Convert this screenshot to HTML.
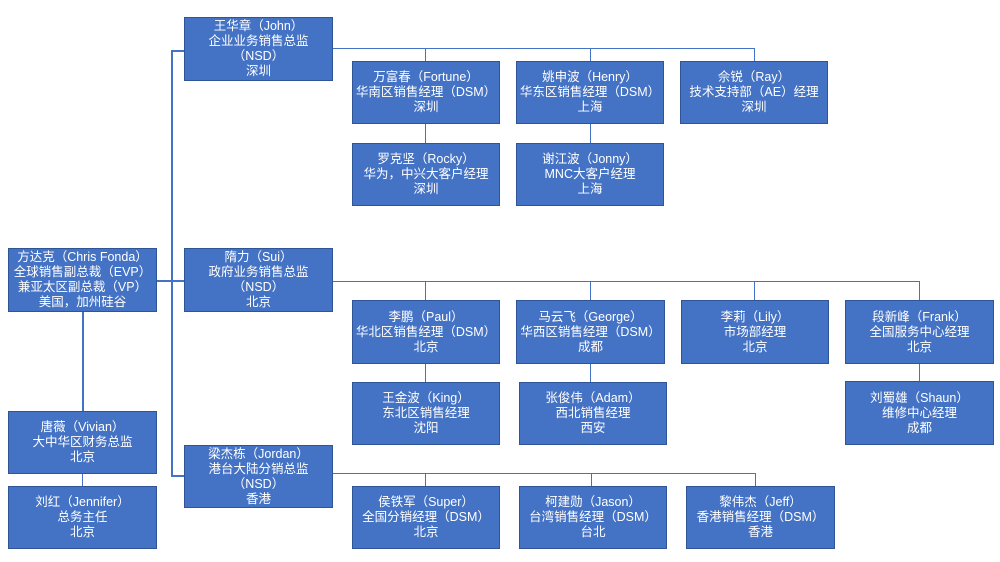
<!DOCTYPE html>
<html><head><meta charset="utf-8"><style>
body{margin:0;width:1000px;height:562px;background:#fff;position:relative;overflow:hidden;font-family:"Liberation Sans","Noto Sans CJK SC",sans-serif}
.b{position:absolute;background:#4472C4;border:1px solid #2F5597;box-sizing:border-box;color:#fff;font-size:12.5px;line-height:15px;text-align:center;display:flex;flex-direction:column;justify-content:center;white-space:nowrap}
.h{position:absolute;height:1px;background:#4472C4}
.v{position:absolute;width:1px;background:#4472C4}
</style></head><body>
<div class="v" style="left:171px;top:50px;height:427px;width:2px"></div>
<div class="h" style="left:171px;top:50px;width:14px;height:2px"></div>
<div class="h" style="left:171px;top:475px;width:14px;height:2px"></div>
<div class="h" style="left:157px;top:280px;width:28px;height:2px"></div>
<div class="v" style="left:82px;top:312px;height:100px;width:2px"></div>
<div class="v" style="left:82px;top:474px;height:12px"></div>
<div class="h" style="left:333px;top:48px;width:422px"></div>
<div class="v" style="left:425px;top:48px;height:14px"></div>
<div class="v" style="left:590px;top:48px;height:14px"></div>
<div class="v" style="left:754px;top:48px;height:14px"></div>
<div class="v" style="left:425px;top:124px;height:20px"></div>
<div class="v" style="left:590px;top:124px;height:20px"></div>
<div class="h" style="left:333px;top:281px;width:587px"></div>
<div class="v" style="left:425px;top:281px;height:20px"></div>
<div class="v" style="left:590px;top:281px;height:20px"></div>
<div class="v" style="left:754px;top:281px;height:20px"></div>
<div class="v" style="left:919px;top:281px;height:20px"></div>
<div class="v" style="left:425px;top:364px;height:18px"></div>
<div class="v" style="left:590px;top:364px;height:18px"></div>
<div class="v" style="left:919px;top:364px;height:18px"></div>
<div class="h" style="left:333px;top:473px;width:422px"></div>
<div class="v" style="left:425px;top:473px;height:13px"></div>
<div class="v" style="left:591px;top:473px;height:13px"></div>
<div class="v" style="left:755px;top:473px;height:13px"></div>
<div class="b" style="left:8px;top:248px;width:149px;height:64px">方达克（Chris Fonda）<br>全球销售副总裁（EVP）<br>兼亚太区副总裁（VP）<br>美国，加州硅谷</div>
<div class="b" style="left:8px;top:411px;width:149px;height:63px">唐薇（Vivian）<br>大中华区财务总监<br>北京</div>
<div class="b" style="left:8px;top:486px;width:149px;height:63px">刘红（Jennifer）<br>总务主任<br>北京</div>
<div class="b" style="left:184px;top:17px;width:149px;height:64px">王华章（John）<br>企业业务销售总监<br>（NSD）<br>深圳</div>
<div class="b" style="left:184px;top:248px;width:149px;height:64px">隋力（Sui）<br>政府业务销售总监<br>（NSD）<br>北京</div>
<div class="b" style="left:184px;top:445px;width:149px;height:63px">梁杰栋（Jordan）<br>港台大陆分销总监<br>（NSD）<br>香港</div>
<div class="b" style="left:352px;top:61px;width:148px;height:63px">万富春（Fortune）<br>华南区销售经理（DSM）<br>深圳</div>
<div class="b" style="left:352px;top:143px;width:148px;height:63px">罗克坚（Rocky）<br>华为，中兴大客户经理<br>深圳</div>
<div class="b" style="left:516px;top:61px;width:148px;height:63px">姚申波（Henry）<br>华东区销售经理（DSM）<br>上海</div>
<div class="b" style="left:516px;top:143px;width:148px;height:63px">谢江波（Jonny）<br>MNC大客户经理<br>上海</div>
<div class="b" style="left:680px;top:61px;width:148px;height:63px">佘锐（Ray）<br>技术支持部（AE）经理<br>深圳</div>
<div class="b" style="left:352px;top:300px;width:148px;height:64px">李鹏（Paul）<br>华北区销售经理（DSM）<br>北京</div>
<div class="b" style="left:352px;top:382px;width:148px;height:63px">王金波（King）<br>东北区销售经理<br>沈阳</div>
<div class="b" style="left:516px;top:300px;width:149px;height:64px">马云飞（George）<br>华西区销售经理（DSM）<br>成都</div>
<div class="b" style="left:519px;top:382px;width:148px;height:63px">张俊伟（Adam）<br>西北销售经理<br>西安</div>
<div class="b" style="left:681px;top:300px;width:148px;height:64px">李莉（Lily）<br>市场部经理<br>北京</div>
<div class="b" style="left:845px;top:300px;width:149px;height:64px">段新峰（Frank）<br>全国服务中心经理<br>北京</div>
<div class="b" style="left:845px;top:381px;width:149px;height:64px">刘蜀雄（Shaun）<br>维修中心经理<br>成都</div>
<div class="b" style="left:352px;top:486px;width:148px;height:63px">侯铁军（Super）<br>全国分销经理（DSM）<br>北京</div>
<div class="b" style="left:519px;top:486px;width:148px;height:63px">柯建勋（Jason）<br>台湾销售经理（DSM）<br>台北</div>
<div class="b" style="left:686px;top:486px;width:149px;height:63px">黎伟杰（Jeff）<br>香港销售经理（DSM）<br>香港</div>
</body></html>
